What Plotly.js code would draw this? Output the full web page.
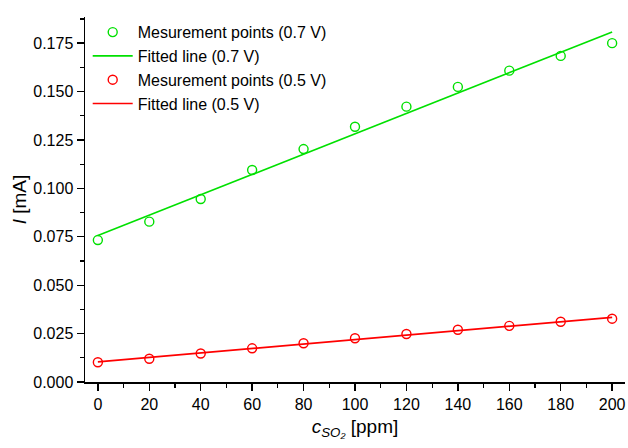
<!DOCTYPE html>
<html>
<head>
<meta charset="utf-8">
<script src="https://cdn.plot.ly/plotly-3.0.1.min.js"></script>
<style>html,body{margin:0;padding:0;background:#fff;}#chart{width:628px;height:448px;}</style>
</head>
<body>
<div id="chart"></div>
<script>
// concentration of SO2 [ppm]
const concentration = [0, 20, 40, 60, 80, 100, 120, 140, 160, 180, 200];
// measured current [mA]
const current07V = [0.0733, 0.0828, 0.0945, 0.1095, 0.1203, 0.1318, 0.1422, 0.1524, 0.1608, 0.1684, 0.1750];
const current05V = [0.0102, 0.0120, 0.0147, 0.0174, 0.0200, 0.0226, 0.0248, 0.0270, 0.0290, 0.0311, 0.0327];
// fitted lines (endpoints)
const fitX = [0, 200];
const fit07V = [0.0756, 0.1808];
const fit05V = [0.0104, 0.0334];

const names = ["Mesurement points (0.7 V)", "Fitted line (0.7 V)", "Mesurement points (0.5 V)", "Fitted line (0.5 V)"];
const green = "#00e000";
const red = "#ff0000";

const font = "'Liberation Sans', Arial, Helvetica, sans-serif";

const traces = [
  {x: concentration, y: current07V, mode: "markers", name: names[0], legendgroup: "a",
   marker: {symbol: "circle-open", size: 9, color: green, line: {width: 1.4, color: green}}},
  {x: fitX, y: fit07V, mode: "lines", name: names[1], legendgroup: "b",
   line: {color: green, width: 1.6}},
  {x: concentration, y: current05V, mode: "markers", name: names[2], legendgroup: "c",
   marker: {symbol: "circle-open", size: 9, color: red, line: {width: 1.4, color: red}}},
  {x: fitX, y: fit05V, mode: "lines", name: names[3], legendgroup: "d",
   line: {color: red, width: 1.6}}
];

const layout = {
  width: 628, height: 448,
  margin: {l: 85, r: 3, t: 17, b: 66},
  paper_bgcolor: "#fff", plot_bgcolor: "#fff",
  font: {family: font, size: 16, color: "#000"},
  showlegend: true,
  legend: {x: 0.005, y: 1.005, xanchor: "left", yanchor: "top", bgcolor: "rgba(0,0,0,0)",
           font: {family: font, size: 16, color: "#000"}, tracegroupgap: 0, itemwidth: 40},
  xaxis: {
    range: [-5, 205], tickvals: concentration, ticks: "outside", ticklen: 7, tickwidth: 1.3,
    tickcolor: "#000", showline: true, linecolor: "#000", linewidth: 1.5, showgrid: false, zeroline: false,
    minor: {dtick: 10, tick0: 0, ticks: "outside", ticklen: 4, tickwidth: 1.2, tickcolor: "#000", showgrid: false},
    tickfont: {size: 16},
    title: {text: "<i>c</i><sub><i>SO₂</i></sub> [ppm]", font: {size: 19}, standoff: 8}
  },
  yaxis: {
    range: [0, 0.1885], dtick: 0.025, tick0: 0, tickformat: ".3f", ticks: "outside", ticklen: 7, tickwidth: 1.3,
    tickcolor: "#000", showline: true, linecolor: "#000", linewidth: 1.5, showgrid: false, zeroline: false,
    minor: {dtick: 0.0125, tick0: 0, ticks: "outside", ticklen: 4, tickwidth: 1.2, tickcolor: "#000", showgrid: false},
    tickfont: {size: 16},
    title: {text: "<i>I</i> [mA]", font: {size: 19}, standoff: 1}
  }
};

Plotly.newPlot("chart", traces, layout, {displayModeBar: false, staticPlot: true});
</script>
</body>
</html>
